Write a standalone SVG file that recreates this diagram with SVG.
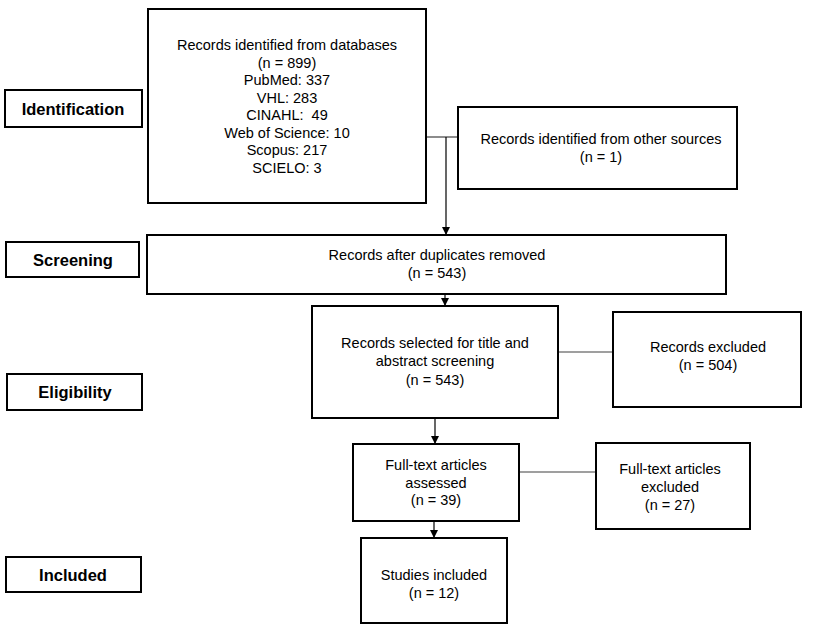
<svg xmlns="http://www.w3.org/2000/svg" width="820" height="633" viewBox="0 0 820 633">
<defs>
<style>
.box{fill:#fff;stroke:#000;stroke-width:2}
.t{font-family:"Liberation Sans",Arial,sans-serif;font-size:14.5px;fill:#000;text-anchor:middle}
.lb{font-family:"Liberation Sans",Arial,sans-serif;font-size:16.5px;font-weight:bold;fill:#000;text-anchor:middle}
.ln{stroke:#404040;stroke-width:1.2;fill:none}
.ar{stroke:#000;stroke-width:1.2;fill:none;marker-end:url(#ah)}
</style>
<marker id="ah" markerWidth="8" markerHeight="8" refX="7" refY="4" orient="auto" markerUnits="userSpaceOnUse">
<path d="M0,0 L8,4 L0,8 Z" fill="#000"/>
</marker>
</defs>
<rect width="820" height="633" fill="#fff"/>
<g id="connectors">
<line class="ln" x1="426" y1="137" x2="458" y2="137"/>
<line class="ar" x1="446" y1="137" x2="446" y2="234"/>
<line class="ar" x1="445" y1="294" x2="445" y2="305"/>
<line class="ln" x1="558" y1="352" x2="613" y2="352"/>
<line class="ar" x1="435" y1="418" x2="435" y2="443"/>
<line class="ln" x1="519" y1="472" x2="596" y2="472"/>
<line class="ar" x1="434" y1="521" x2="434" y2="537"/>
</g>
<g id="label-identification"><rect class="box" x="5" y="90" width="137" height="37"/><text class="lb" x="73" y="114.5">Identification</text></g>
<g id="label-screening"><rect class="box" x="6" y="242" width="133" height="35"/><text class="lb" x="73" y="265.5">Screening</text></g>
<g id="label-eligibility"><rect class="box" x="7" y="374" width="135" height="36"/><text class="lb" x="75" y="397.5">Eligibility</text></g>
<g id="label-included"><rect class="box" x="6" y="557" width="135" height="35"/><text class="lb" x="73" y="580.5">Included</text></g>
<g id="databases"><rect class="box" x="148" y="9" width="278" height="194"/>
<text class="t" x="287" y="50">Records identified from databases</text>
<text class="t" x="287" y="67.5">(n = 899)</text>
<text class="t" x="287" y="85">PubMed: 337</text>
<text class="t" x="287" y="102.5">VHL: 283</text>
<text class="t" x="287" y="120">CINAHL:&#160; 49</text>
<text class="t" x="287" y="137.5">Web of Science: 10</text>
<text class="t" x="287" y="155">Scopus: 217</text>
<text class="t" x="287" y="172.5">SCIELO: 3</text>
</g>
<g id="other-sources"><rect class="box" x="458" y="107" width="279" height="82"/>
<text class="t" x="601" y="144">Records identified from other sources</text>
<text class="t" x="601" y="162">(n = 1)</text>
</g>
<g id="duplicates-removed"><rect class="box" x="147" y="235" width="579" height="59"/>
<text class="t" x="437" y="260">Records after duplicates removed</text>
<text class="t" x="437" y="278">(n = 543)</text>
</g>
<g id="title-abstract"><rect class="box" x="312" y="306" width="246" height="112"/>
<text class="t" x="435" y="348">Records selected for title and</text>
<text class="t" x="435" y="366">abstract screening</text>
<text class="t" x="435" y="385">(n = 543)</text>
</g>
<g id="records-excluded"><rect class="box" x="613" y="312" width="188" height="95"/>
<text class="t" x="708" y="352">Records excluded</text>
<text class="t" x="708" y="370">(n = 504)</text>
</g>
<g id="fulltext-assessed"><rect class="box" x="353" y="444" width="166" height="77"/>
<text class="t" x="436" y="470">Full-text articles</text>
<text class="t" x="436" y="488">assessed</text>
<text class="t" x="436" y="505">(n = 39)</text>
</g>
<g id="fulltext-excluded"><rect class="box" x="596" y="443" width="154" height="86"/>
<text class="t" x="670" y="474">Full-text articles</text>
<text class="t" x="670" y="492">excluded</text>
<text class="t" x="670" y="510">(n = 27)</text>
</g>
<g id="studies-included"><rect class="box" x="361" y="538" width="146" height="85"/>
<text class="t" x="434" y="580">Studies included</text>
<text class="t" x="434" y="598">(n = 12)</text>
</g>
</svg>
